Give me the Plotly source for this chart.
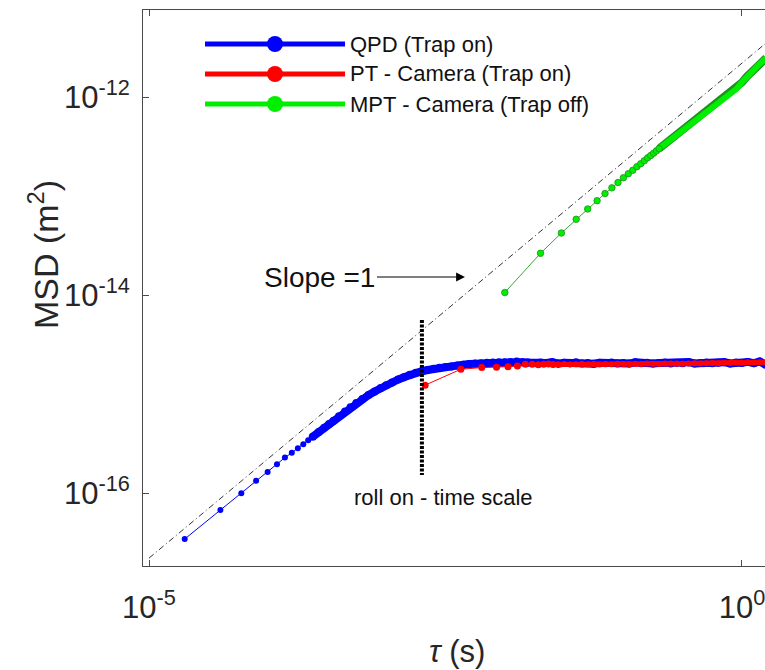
import plotly.graph_objects as go

# ---------------- data ----------------
# QPD (trap on): first individual lag points
qpd_tau_sparse = [2e-5, 4e-5, 6e-5, 8e-5, 1.0e-4, 1.2e-4, 1.4e-4, 1.6e-4, 1.8e-4, 2.0e-4, 2.2e-4, 2.4e-4]
qpd_msd_sparse = [3.43e-17, 6.73e-17, 9.93e-17, 1.33e-16, 1.63e-16, 1.95e-16, 2.28e-16, 2.55e-16,
                  2.83e-16, 3.11e-16, 3.42e-16, 3.71e-16]
# QPD dense part (merges into a thick band)
qpd_tau_dense = [2.4e-4, 2.7e-4, 3.0e-4, 3.3e-4, 3.6e-4, 4.0e-4, 4.5e-4, 5.0e-4, 5.6e-4, 6.3e-4, 7.1e-4,
                 8.0e-4, 9.0e-4, 1.0e-3, 1.12e-3, 1.26e-3, 1.41e-3, 1.58e-3, 1.78e-3, 2.0e-3, 2.24e-3,
                 2.51e-3, 2.82e-3, 3.16e-3, 3.55e-3, 3.98e-3, 4.47e-3, 5.01e-3, 5.62e-3, 6.31e-3, 7.08e-3,
                 7.94e-3, 8.91e-3, 1.0e-2, 1.12e-2, 1.26e-2, 1.41e-2, 1.58e-2, 1.78e-2,
                 0.02, 0.0224, 0.0251, 0.0282, 0.0316, 0.0355, 0.0398, 0.0447, 0.0501, 0.0562, 0.0631,
                 0.0708, 0.0794, 0.0891, 0.1, 0.112, 0.126, 0.141, 0.158, 0.178, 0.2, 0.224, 0.251, 0.282,
                 0.316, 0.355, 0.398, 0.447, 0.501, 0.562, 0.631, 0.708, 0.794, 0.891, 1.0, 1.12, 1.26,
                 1.41, 1.58]
qpd_msd_dense = [3.71e-16, 4.14e-16, 4.56e-16, 4.98e-16, 5.38e-16, 5.95e-16, 6.65e-16, 7.35e-16, 8.10e-16,
                 8.92e-16, 9.75e-16, 1.06e-15, 1.15e-15, 1.23e-15, 1.31e-15, 1.40e-15, 1.48e-15, 1.57e-15,
                 1.64e-15, 1.70e-15, 1.75e-15, 1.80e-15, 1.84e-15, 1.87e-15, 1.90e-15, 1.94e-15, 1.98e-15,
                 2.01e-15, 2.03e-15, 2.05e-15, 2.07e-15, 2.08e-15, 2.09e-15, 2.10e-15, 2.11e-15, 2.13e-15,
                 2.10e-15, 2.08e-15, 2.06e-15,
                 2.08e-15, 2.06e-15, 2.10e-15, 2.03e-15, 2.07e-15, 2.05e-15, 2.09e-15, 2.04e-15, 2.06e-15,
                 2.02e-15, 2.07e-15, 2.05e-15, 2.08e-15, 2.04e-15, 2.06e-15, 2.03e-15, 2.09e-15, 2.05e-15,
                 2.07e-15, 2.04e-15, 2.06e-15, 2.08e-15, 2.03e-15, 2.07e-15, 2.05e-15, 2.10e-15, 2.04e-15,
                 2.06e-15, 2.08e-15, 2.05e-15, 2.07e-15, 2.10e-15, 2.04e-15, 2.08e-15, 2.06e-15, 2.11e-15,
                 2.05e-15, 2.13e-15, 1.98e-15]

# PT - camera (trap on)
pt_tau_sparse = [0.00213, 0.00426, 0.00639, 0.00852, 0.01065, 0.01278, 0.01491, 0.01704, 0.01917,
                 0.0213, 0.02343, 0.02556]
pt_msd_sparse = [1.23e-15, 1.78e-15, 1.85e-15, 1.86e-15, 1.89e-15, 1.92e-15, 2.00e-15, 2.00e-15,
                 1.98e-15, 2.00e-15, 2.01e-15, 1.99e-15]
pt_tau_dense = [0.02556, 0.0282, 0.0316, 0.0355, 0.0398, 0.0447, 0.0501, 0.0562, 0.0631, 0.0708, 0.0794,
                0.0891, 0.1, 0.112, 0.126, 0.141, 0.158, 0.178, 0.2, 0.224, 0.251, 0.282, 0.316, 0.355,
                0.398, 0.447, 0.501, 0.562, 0.631, 0.708, 0.794, 0.891, 1.0, 1.12, 1.26, 1.41, 1.58]
pt_msd_dense = [1.99e-15, 2.00e-15, 2.01e-15, 1.99e-15, 2.00e-15, 2.02e-15, 2.00e-15, 2.01e-15, 1.99e-15,
                2.01e-15, 2.00e-15, 2.02e-15, 2.01e-15, 2.00e-15, 2.02e-15, 2.01e-15, 2.03e-15, 2.02e-15,
                2.01e-15, 2.03e-15, 2.04e-15, 2.03e-15, 2.02e-15, 2.04e-15, 2.05e-15, 2.03e-15, 2.05e-15,
                2.06e-15, 2.05e-15, 2.07e-15, 2.06e-15, 2.08e-15, 2.07e-15, 2.09e-15, 2.08e-15, 2.10e-15,
                2.09e-15]

# MPT - camera (trap off)
mpt_tau_sparse = [0.01, 0.02, 0.03, 0.04, 0.05, 0.06, 0.07, 0.08, 0.09, 0.10, 0.11, 0.12, 0.13,
                  0.14, 0.15, 0.16, 0.17, 0.18, 0.19, 0.20]
mpt_msd_sparse = [1.06e-14, 2.64e-14, 4.23e-14, 5.82e-14, 7.4e-14, 8.97e-14, 1.06e-13, 1.21e-13,
                  1.37e-13, 1.53e-13, 1.68e-13, 1.82e-13, 1.98e-13, 2.12e-13, 2.27e-13, 2.43e-13,
                  2.57e-13, 2.71e-13, 2.86e-13, 3.01e-13]
mpt_tau_dense = [0.20, 0.25, 0.30, 0.35, 0.40, 0.50, 0.60, 0.70, 0.80, 0.90,
                 1.00, 1.10, 1.20, 1.30, 1.40, 1.50, 1.60]
mpt_msd_dense = [3.01e-13, 3.72e-13, 4.41e-13, 5.12e-13, 5.80e-13,
                 7.1e-13, 8.3e-13, 9.6e-13, 1.08e-12, 1.21e-12, 1.41e-12, 1.61e-12, 1.79e-12, 1.98e-12,
                 2.15e-12, 2.31e-12, 2.48e-12]

# reference guides
slope_tau = [1e-5, 1.6]
slope_msd = [2.2e-17, 3.52e-12]
rolloff_tau = [2.0e-3, 2.0e-3]
rolloff_msd = [5.6e-15, 1.52e-16]

legend_names = ["QPD (Trap on)", "PT - Camera (Trap on)", "MPT - Camera (Trap off)"]
x_tick_vals = [1e-5, 1]
x_tick_text = ["10<sup>-5</sup>", "10<sup>0</sup>"]
y_tick_vals = [1e-16, 1e-14, 1e-12]
y_tick_text = ["10<sup>-16</sup>", "10<sup>-14</sup>", "10<sup>-12</sup>"]

# ---------------- styling ----------------
FONT = "Liberation Sans, Arial, Helvetica, sans-serif"
BLUE = "#0000ff"
RED = "#ff0000"
GREEN = "#00ee00"
GREEN_EDGE = "#1f8f1f"
AXC = "#4a4a4a"

fig = go.Figure()

# QPD
fig.add_trace(go.Scatter(x=qpd_tau_sparse, y=qpd_msd_sparse, mode="lines+markers",
                         line=dict(color=BLUE, width=1), marker=dict(color=BLUE, size=6),
                         showlegend=False, hoverinfo="skip"))
fig.add_trace(go.Scatter(x=qpd_tau_dense, y=qpd_msd_dense, mode="lines+markers",
                         line=dict(color=BLUE, width=8), marker=dict(color=BLUE, size=8),
                         showlegend=False, hoverinfo="skip"))
# PT camera
fig.add_trace(go.Scatter(x=pt_tau_sparse, y=pt_msd_sparse, mode="lines+markers",
                         line=dict(color=RED, width=1), marker=dict(color=RED, size=7),
                         showlegend=False, hoverinfo="skip"))
fig.add_trace(go.Scatter(x=pt_tau_dense, y=pt_msd_dense, mode="lines+markers",
                         line=dict(color=RED, width=5), marker=dict(color=RED, size=6),
                         showlegend=False, hoverinfo="skip"))
# MPT camera
fig.add_trace(go.Scatter(x=mpt_tau_dense, y=mpt_msd_dense, mode="lines",
                         line=dict(color=GREEN_EDGE, width=8),
                         showlegend=False, hoverinfo="skip"))
fig.add_trace(go.Scatter(x=mpt_tau_dense, y=mpt_msd_dense, mode="lines",
                         line=dict(color=GREEN, width=6),
                         showlegend=False, hoverinfo="skip"))
fig.add_trace(go.Scatter(x=mpt_tau_sparse, y=mpt_msd_sparse, mode="lines+markers",
                         line=dict(color="#3aa53a", width=1),
                         marker=dict(color=GREEN, size=6.5, line=dict(color=GREEN_EDGE, width=0.8)),
                         showlegend=False, hoverinfo="skip"))
# slope = 1 guide
fig.add_trace(go.Scatter(x=slope_tau, y=slope_msd, mode="lines",
                         line=dict(color="#333333", width=1, dash="6px,3px,1px,3px"),
                         showlegend=False, hoverinfo="skip"))
# roll-on time scale marker
fig.add_trace(go.Scatter(x=rolloff_tau, y=rolloff_msd, mode="lines",
                         line=dict(color="black", width=4, dash="3px,1.5px"),
                         showlegend=False, hoverinfo="skip"))

# manual legend (long MATLAB-style line samples)
leg_colors = [BLUE, RED, GREEN]
leg_y = [0.9388, 0.8849, 0.8309]
shapes = []
annotations = []
for name, col, yy in zip(legend_names, leg_colors, leg_y):
    shapes.append(dict(type="line", xref="paper", yref="paper", x0=0.0997, x1=0.3248, y0=yy, y1=yy,
                       line=dict(color=col, width=5)))
    shapes.append(dict(type="circle", xref="paper", yref="paper", xsizemode="pixel", ysizemode="pixel",
                       xanchor=0.2122, yanchor=yy, x0=-8, x1=8, y0=-8, y1=8,
                       fillcolor=col, line=dict(color=col, width=0)))
    annotations.append(dict(text=name, xref="paper", yref="paper", x=0.3296, y=yy, xanchor="left",
                            yanchor="middle", showarrow=False,
                            font=dict(family=FONT, size=22, color="#111111")))

# text annotations
annotations.append(dict(text="Slope =1", x=-2.336, y=-13.818, xref="x", yref="y",
                        showarrow=True, ax=-145, ay=0, arrowhead=2, arrowsize=1.6, arrowwidth=1.1,
                        arrowcolor="black", standoff=0,
                        font=dict(family=FONT, size=28, color="#111111")))
annotations.append(dict(text="roll on - time scale", x=-2.513, y=-16.04, xref="x", yref="y",
                        showarrow=False, font=dict(family=FONT, size=22, color="#111111")))
annotations.append(dict(text="<i>τ</i> (s)", xref="paper", yref="paper", x=0.505, y=-0.153,
                        xanchor="center", yanchor="middle", showarrow=False,
                        font=dict(family=FONT, size=31, color="#262626")))
annotations.append(dict(text="MSD (m<sup>2</sup>)", xref="paper", yref="paper", x=-0.16, y=0.56,
                        xanchor="center", yanchor="middle", textangle=-90, showarrow=False,
                        font=dict(family=FONT, size=34, color="#262626")))

fig.update_layout(
    template="none",
    width=765, height=670,
    margin=dict(l=143, r=0, t=10, b=104, autoexpand=False),
    paper_bgcolor="white", plot_bgcolor="white",
    showlegend=False,
    shapes=shapes, annotations=annotations,
    font=dict(family=FONT, color="#262626"),
)
fig.update_xaxes(type="log", range=[-5.0506, 0.194], showgrid=False, zeroline=False,
                 showline=True, linecolor=AXC, linewidth=1, mirror="ticks",
                 ticks="inside", ticklen=6, tickcolor=AXC, tickwidth=1,
                 tickvals=x_tick_vals, ticktext=x_tick_text, ticklabelstandoff=14,
                 ticklabeloverflow="allow",
                 tickfont=dict(family=FONT, size=31, color="#262626"), automargin=False)
fig.update_yaxes(type="log", range=[-16.737, -11.121], showgrid=False, zeroline=False,
                 showline=True, linecolor=AXC, linewidth=1, mirror=False,
                 ticks="inside", ticklen=6, tickcolor=AXC, tickwidth=1,
                 tickvals=y_tick_vals, ticktext=y_tick_text, ticklabelstandoff=6,
                 ticklabeloverflow="allow",
                 tickfont=dict(family=FONT, size=31, color="#262626"), automargin=False)

fig.write_html("out.html")
